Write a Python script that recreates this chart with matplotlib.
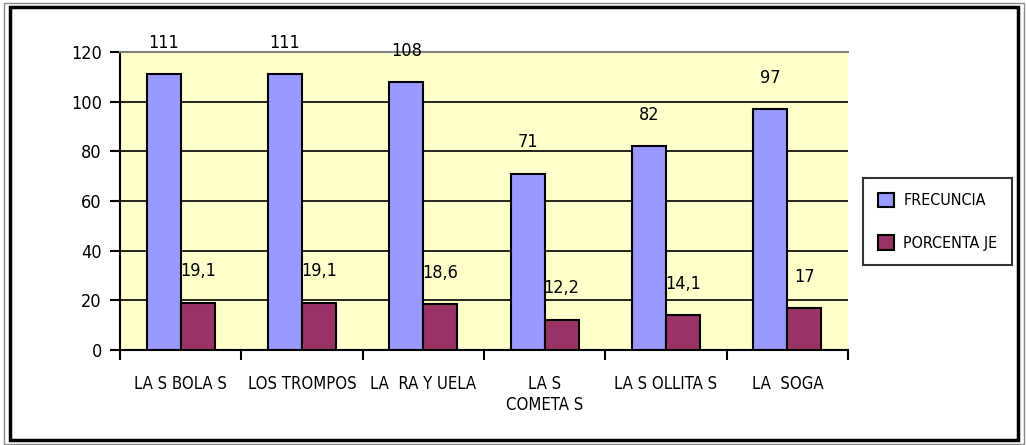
import matplotlib
matplotlib.use("Agg")
import matplotlib.pyplot as plt
from matplotlib.patches import Rectangle
import numpy as np

plt.rcParams['font.family'] = ['DejaVu Sans']
plt.rcParams['font.stretch'] = 'condensed'

categories = ["LA S BOLA S", "LOS TROMPOS", "LA  RA Y UELA", "LA S\nCOMETA S", "LA S OLLITA S", "LA  SOGA"]
frecuencia = [111, 111, 108, 71, 82, 97]
porcentaje = [19.1, 19.1, 18.6, 12.2, 14.1, 17]
series_names = ["FRECUNCIA", "PORCENTA JE"]

fig = plt.figure(figsize=(10.26, 4.45), dpi=100)
# double outer frame
fig.patches.append(Rectangle((0.010, 0.012), 0.982, 0.972, transform=fig.transFigure,
                             fill=False, edgecolor='black', linewidth=2.5))
fig.patches.append(Rectangle((0.004, 0.003), 0.994, 0.990, transform=fig.transFigure,
                             fill=False, edgecolor='#888888', linewidth=1))

ax = fig.add_axes([0.117, 0.2135, 0.7095, 0.6695])
ax.set_facecolor('#FFFFCC')

x = np.arange(len(categories))
w = 0.28
ax.bar(x - w / 2, frecuencia, w, color='#9999FF', edgecolor='black', linewidth=1.5,
       label=series_names[0], zorder=3)
ax.bar(x + w / 2, porcentaje, w, color='#993366', edgecolor='black', linewidth=1.5,
       label=series_names[1], zorder=3)

for xi, v in zip(x, frecuencia):
    ax.annotate(str(v), (xi - w / 2, v), xytext=(0, 16), textcoords='offset points',
                ha='center', va='bottom', fontsize=13)
for xi, v in zip(x, porcentaje):
    ax.annotate(str(v).replace('.', ','), (xi + w / 2, v), xytext=(0, 16), textcoords='offset points',
                ha='center', va='bottom', fontsize=13)

ax.set_xlim(-0.5, len(categories) - 0.5)
ax.set_ylim(0, 120)
ax.set_yticks(range(0, 121, 20))
ax.yaxis.grid(True, color='black', linewidth=1.2, zorder=0)
ax.tick_params(axis='y', length=7, width=1.5, labelsize=13, pad=6)

# category separators as major ticks, names on minor ticks
ax.set_xticks(np.arange(-0.5, len(categories), 1))
ax.set_xticklabels([])
ax.set_xticks(x, minor=True)
ax.set_xticklabels(categories, minor=True, fontsize=12)
ax.tick_params(axis='x', which='major', length=7, width=1.5, direction='out')
ax.tick_params(axis='x', which='minor', length=0, pad=18)

for s in ['left', 'bottom']:
    ax.spines[s].set_linewidth(1.5)
ax.spines['right'].set_visible(False)
ax.spines['top'].set_color('#808080')
ax.spines['top'].set_linewidth(1.5)

leg = ax.legend(loc='center left', bbox_to_anchor=(1.01, 0.43), frameon=True, fancybox=False,
                edgecolor='black', fontsize=11.5, handlelength=1.0, handleheight=1.0,
                labelspacing=1.7, borderpad=0.9, handletextpad=0.6)
leg.get_frame().set_linewidth(1.5)

fig.savefig("out.png", dpi=100)
